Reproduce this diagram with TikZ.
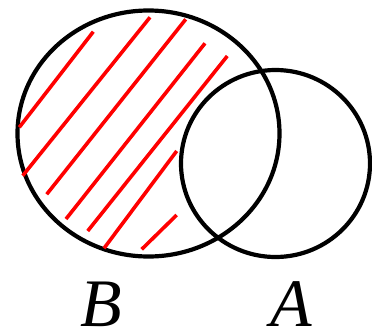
\documentclass[tikz,border=0pt]{standalone}
\usepackage{fontspec}
\setmainfont{Liberation Serif}
\usetikzlibrary{shapes.geometric}
\begin{document}
\begin{tikzpicture}[x=1pt,y=-1pt,
  setline/.style={draw=black,line width=4.2pt,inner sep=0pt,outer sep=0pt},
  hatch/.style={draw=red,line width=3.6pt},
  lbl/.style={font=\fontsize{68}{68}\selectfont\itshape,inner sep=0pt,anchor=base}]
\useasboundingbox (0,0) rectangle (372,332);
\node[setline,ellipse,minimum width=262,minimum height=246] (B) at (148.5,133.5) {};
\node[setline,ellipse,minimum width=189,minimum height=187] (A) at (275.5,163.5) {};
\coordinate (h1a) at (19.3,127.3); \coordinate (h1b) at (93.3,31.7);
\coordinate (h2a) at (22.7,175.7); \coordinate (h2b) at (150,17.3);
\coordinate (h3a) at (46.7,194.3); \coordinate (h3b) at (185.7,19.3);
\coordinate (h4a) at (66,219); \coordinate (h4b) at (205,43.3);
\coordinate (h5a) at (87.7,231); \coordinate (h5b) at (227.3,56);
\coordinate (h6a) at (104,248.3); \coordinate (h6b) at (176.7,151);
\coordinate (h7a) at (141.7,249.3); \coordinate (h7b) at (176.7,215);
\foreach \i in {1,...,7} { \draw[hatch] (h\i a) -- (h\i b); }
\node[lbl] (lB) at (101,326) {B};
\node[lbl] (lA) at (291,326) {A};
\end{tikzpicture}
\end{document}
